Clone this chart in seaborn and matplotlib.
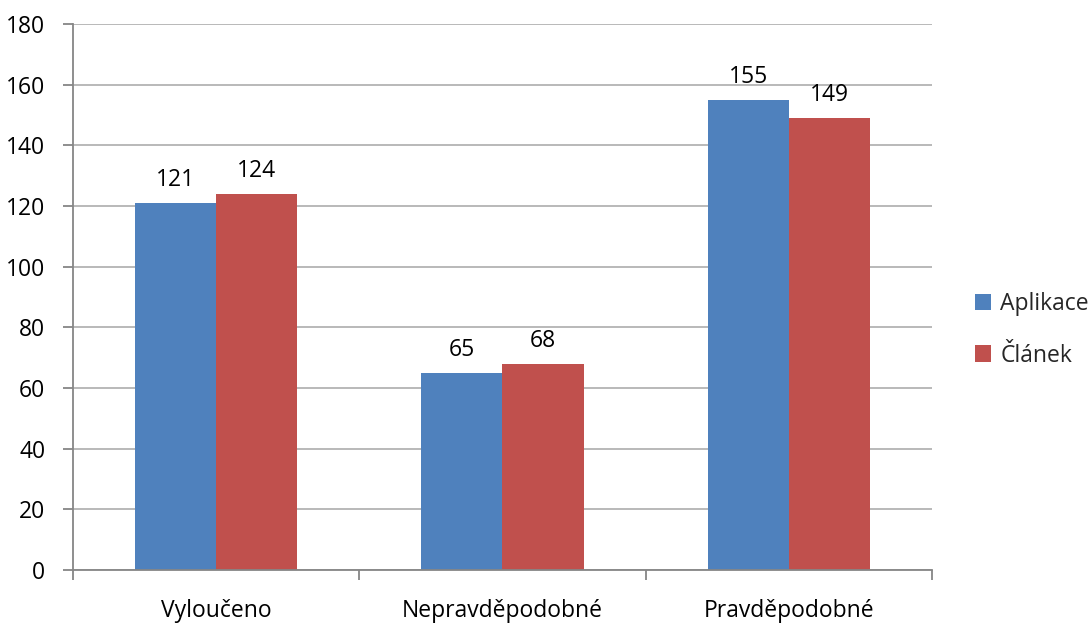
import matplotlib
matplotlib.use("Agg")
import matplotlib.pyplot as plt
import seaborn as sns
import pandas as pd
from matplotlib.ticker import FixedLocator, MultipleLocator

categories = ["Vyloučeno", "Nepravděpodobné", "Pravděpodobné"]
series = ["Aplikace", "Článek"]
aplikace = [121, 65, 155]
clanek = [124, 68, 149]
colors = ["#4F81BD", "#C0504D"]

df = pd.DataFrame({
    "kategorie": categories * 2,
    "hodnota": aplikace + clanek,
    "serie": [series[0]] * 3 + [series[1]] * 3,
})

sns.set_theme(style="white")
plt.rcParams["font.family"] = ["Open Sans", "DejaVu Sans"]
FS = 16.5

fig = plt.figure(figsize=(10.9, 6.24), dpi=100)
ax = fig.add_axes([73 / 1090, 54 / 624, (932 - 73) / 1090, (571 - 25) / 624])

sns.barplot(data=df, x="kategorie", y="hodnota", hue="serie", palette=colors,
            width=0.567, gap=0, linewidth=0, edgecolor="none", ax=ax, legend=True,
            saturation=1)

for c in ax.containers:
    ax.bar_label(c, padding=8, fontsize=FS, color="black")

ax.set_xlim(-0.5, 2.5)
ax.set_ylim(0, 180)
ax.yaxis.set_major_locator(MultipleLocator(20))
ax.grid(axis="y", color="#A6A6A6", linewidth=1.1)
ax.set_axisbelow(True)
ax.set_xlabel("")
ax.set_ylabel("")

for s in ["top", "right"]:
    ax.spines[s].set_visible(False)
for s in ["left", "bottom"]:
    ax.spines[s].set_color("#868686")
    ax.spines[s].set_linewidth(1.3)

ax.xaxis.set_minor_locator(FixedLocator([-0.5, 0.5, 1.5, 2.5]))
ax.tick_params(axis="x", which="major", length=0, pad=21, labelsize=FS, colors="black")
ax.tick_params(axis="x", which="minor", length=7, width=1.3, color="#868686", bottom=True)
ax.tick_params(axis="y", which="major", length=7, width=1.3, color="#868686", left=True,
               labelsize=FS, labelcolor="black", pad=13)

leg = ax.legend(loc="center left", bbox_to_anchor=(1.05, 0.44), frameon=False,
                fontsize=FS, handlelength=0.7, handleheight=0.7, handletextpad=0.4,
                labelspacing=1.2, borderpad=0, borderaxespad=0)

fig.savefig("out.png", dpi=100)
